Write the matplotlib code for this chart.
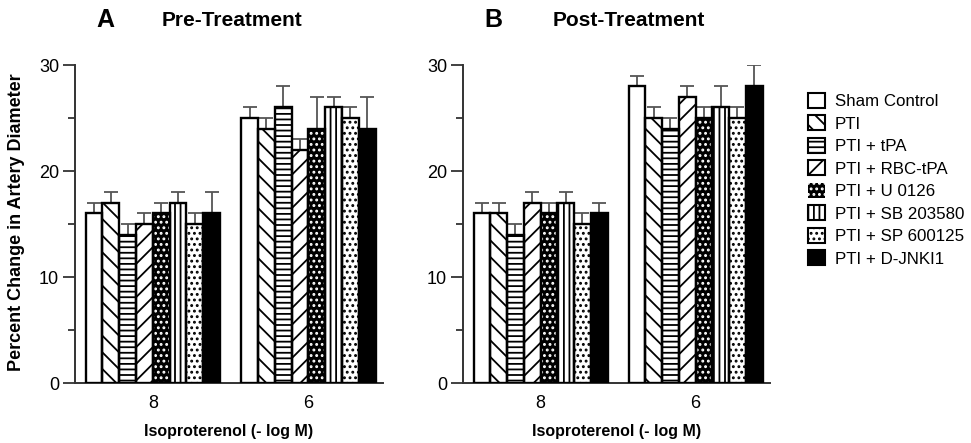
import numpy as np
import matplotlib
matplotlib.use("Agg")
import matplotlib.pyplot as plt
from matplotlib.patches import Patch
from matplotlib.ticker import MultipleLocator

plt.rcParams['font.family'] = ['Liberation Sans', 'DejaVu Sans']
plt.rcParams['hatch.linewidth'] = 1.3

groups = ['8', '6']
treatments = ['Sham Control', 'PTI', 'PTI + tPA', 'PTI + RBC-tPA', 'PTI + U 0126',
              'PTI + SB 203580', 'PTI + SP 600125', 'PTI + D-JNKI1']

# mean values, rows = treatment, cols = groups (8, 6)
pre_mean = [[16, 25], [17, 24], [14, 26], [15, 22], [16, 24], [17, 26], [15, 25], [16, 24]]
pre_err = [[1, 1], [1, 1], [1, 2], [1, 1], [1, 3], [1, 1], [1, 1], [2, 3]]
post_mean = [[16, 28], [16, 25], [14, 24], [17, 27], [16, 25], [17, 26], [15, 25], [16, 28]]
post_err = [[1, 1], [1, 1], [1, 1], [1, 1], [1, 1], [1, 2], [1, 1], [1, 2]]

# (face, hatch, hatch colour)
styles = [('white', None, None), ('white', '\\\\', 'black'), ('white', '---', 'black'),
          ('white', '//', 'black'), ('black', '...', 'white'), ('white', '|||', 'black'),
          ('white', '...', 'black'), ('black', None, None)]

W = 0.108
EC = '#555555'
AX = '#333333'


def draw_panel(ax, means, errs):
    x = np.arange(len(groups))
    for i, (fc, h, hc) in enumerate(styles):
        pos = x + (i - 3.5) * W
        m = means[i]
        e = errs[i]
        ax.errorbar(pos, m, yerr=[[0, 0], e], fmt='none', ecolor=EC, elinewidth=1.3,
                    capsize=5, capthick=1.3, zorder=1)
        ax.bar(pos, m, W, color=fc, linewidth=0, zorder=2)
        if h:
            ax.bar(pos, m, W, facecolor='none', edgecolor=hc, hatch=h, linewidth=0, zorder=3)
        ax.bar(pos, m, W, facecolor='none', edgecolor='black', linewidth=1.7, zorder=4)
    ax.set_xlim(-0.5, 1.48)
    ax.set_ylim(0, 30)
    ax.set_xticks(x)
    ax.set_xticklabels(groups)
    ax.yaxis.set_major_locator(MultipleLocator(10))
    ax.yaxis.set_minor_locator(MultipleLocator(5))
    ax.tick_params(axis='y', which='major', length=8.5, width=1.3, labelsize=13, color=AX, pad=3)
    ax.tick_params(axis='y', which='minor', length=5, width=1.3, color=AX)
    ax.tick_params(axis='x', length=0, labelsize=13, pad=9)
    for s in ['top', 'right']:
        ax.spines[s].set_visible(False)
    for s in ['left', 'bottom']:
        ax.spines[s].set_linewidth(1.4)
        ax.spines[s].set_color(AX)
    ax.set_xlabel('Isoproterenol (- log M)', fontsize=11.5, fontweight='bold', labelpad=8)


fig = plt.figure(figsize=(9.71, 4.43), dpi=100)
axA = fig.add_axes([75 / 971, 60 / 443, 308 / 971, 318 / 443])
axB = fig.add_axes([463 / 971, 60 / 443, 307 / 971, 318 / 443])
draw_panel(axA, pre_mean, pre_err)
draw_panel(axB, post_mean, post_err)

fig.text(17 / 971, 1 - 222 / 443, 'Percent Change in Artery Diameter', rotation=90,
         ha='center', va='center', fontsize=13, fontweight='bold')
fig.text(105 / 971, 1 - 20 / 443, 'A', ha='center', va='center', fontsize=18, fontweight='bold')
fig.text(162 / 971, 1 - 20 / 443, 'Pre-Treatment', ha='left', va='center', fontsize=15, fontweight='bold')
fig.text(493 / 971, 1 - 20 / 443, 'B', ha='center', va='center', fontsize=18, fontweight='bold')
fig.text(553 / 971, 1 - 20 / 443, 'Post-Treatment', ha='left', va='center', fontsize=15, fontweight='bold')

handles = []
for fc, h, hc in styles:
    if fc == 'black' and h:
        handles.append(Patch(facecolor='black', edgecolor='white', hatch=h, linewidth=0))
    else:
        handles.append(Patch(facecolor=fc, edgecolor='black', hatch=h, linewidth=1.5))
fig.legend(handles, treatments, loc='upper left', bbox_to_anchor=(801 / 971, 1 - 86 / 443),
           frameon=False, fontsize=12.2, handlelength=1.0, handleheight=1.0,
           handletextpad=0.6, labelspacing=0.36, borderaxespad=0)

fig.savefig('out.png', dpi=100)
